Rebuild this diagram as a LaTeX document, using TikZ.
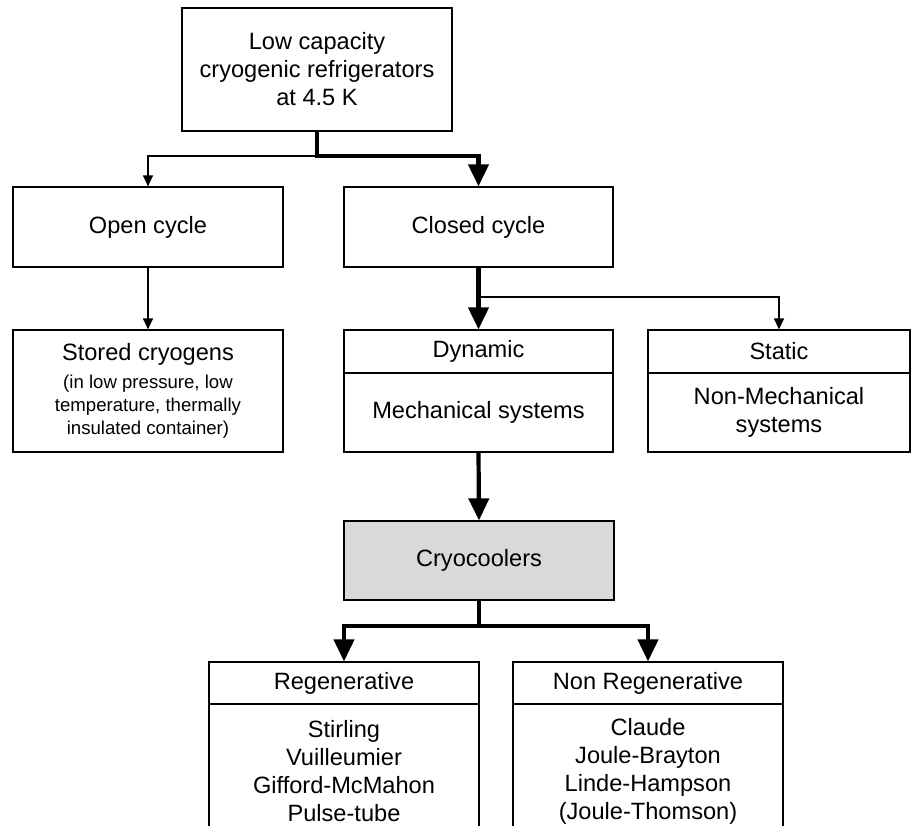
\documentclass[tikz,border=0pt]{standalone}
\usepackage{fontspec}
\setmainfont{Liberation Sans}
\usepackage{tikz}
\usetikzlibrary{arrows.meta}
\definecolor{coolgray}{RGB}{217, 217, 217}

\begin{document}
\begin{tikzpicture}[
    x = 1pt, y = -1pt,
    box/.style = {draw, line width = 1.2pt, rectangle, align = center, font = \fontsize{23.6}{28}\selectfont},
    slim/.style = {line width = 1.2pt, -{Triangle[length=11pt, width=10pt]}},
    fat/.style = {line width = 4.2pt, -{Triangle[length=22pt, width=20pt]}},
]
\clip (0,0) rectangle (912,825);

% top row
\node[box, minimum width = 270pt, minimum height = 123pt] (top) at (317,69.5) {Low capacity\\cryogenic refrigerators\\at 4.5 K};
\node[box, minimum width = 270pt, minimum height = 80pt] (open) at (148,227) {Open cycle};
\node[box, minimum width = 269pt, minimum height = 80pt] (closed) at (478.5,227) {Closed cycle};

% second row
\node[box, minimum width = 270pt, minimum height = 122pt, font = \fontsize{18.6}{23}\selectfont] (stored) at (148,391)
    {{\fontsize{23.6}{28}\selectfont Stored cryogens}\\[5pt](in low pressure, low\\temperature, thermally\\insulated container)};
\node[box, minimum width = 269pt, minimum height = 43pt] (dyn) at (478.5,351.5) {Dynamic};
\node[box, minimum width = 269pt, minimum height = 79pt] (dynbody) at (478.5,412.5) {Mechanical systems};
\node[box, minimum width = 262pt, minimum height = 43pt] (stat) at (779,351.5) {Static};
\node[box, minimum width = 262pt, minimum height = 79pt] (statbody) at (779,412.5) {Non-Mechanical\\systems};

\node[box, fill = coolgray, minimum width = 270pt, minimum height = 79pt] (cryo) at (479,560.5) {Cryocoolers};

% bottom row
\node[box, minimum width = 270pt, minimum height = 42pt] (regen) at (344,683) {Regenerative};
\node[box, minimum width = 270pt, minimum height = 134pt] (regenbody) at (344,771) {Stirling\\Vuilleumier\\Gifford-McMahon\\Pulse-tube};
\node[box, minimum width = 270pt, minimum height = 42pt] (nonregen) at (648,683) {Non Regenerative};
\node[box, minimum width = 270pt, minimum height = 134pt] (nonregenbody) at (648,771) {Claude\\Joule-Brayton\\Linde-Hampson\\(Joule-Thomson)};

\coordinate (split1) at (317,156);
\coordinate (split2) at (478.5,297);
\coordinate (split3) at (479,626);

\draw[slim] (split1) -| (open.north);
\draw[fat] (top.south) -- (split1) -| (closed.north);
\draw[slim] (open.south) -- (stored.north);
\draw[slim] (split2) -| (stat.north);
\draw[fat] (closed.south) -- (dyn.north);
\draw[fat] (dynbody.south) -- (cryo.north);
\draw[fat] (cryo.south) -- (split3) -| (regen.north);
\draw[fat] (split3) -| (nonregen.north);

\end{tikzpicture}
\end{document}
